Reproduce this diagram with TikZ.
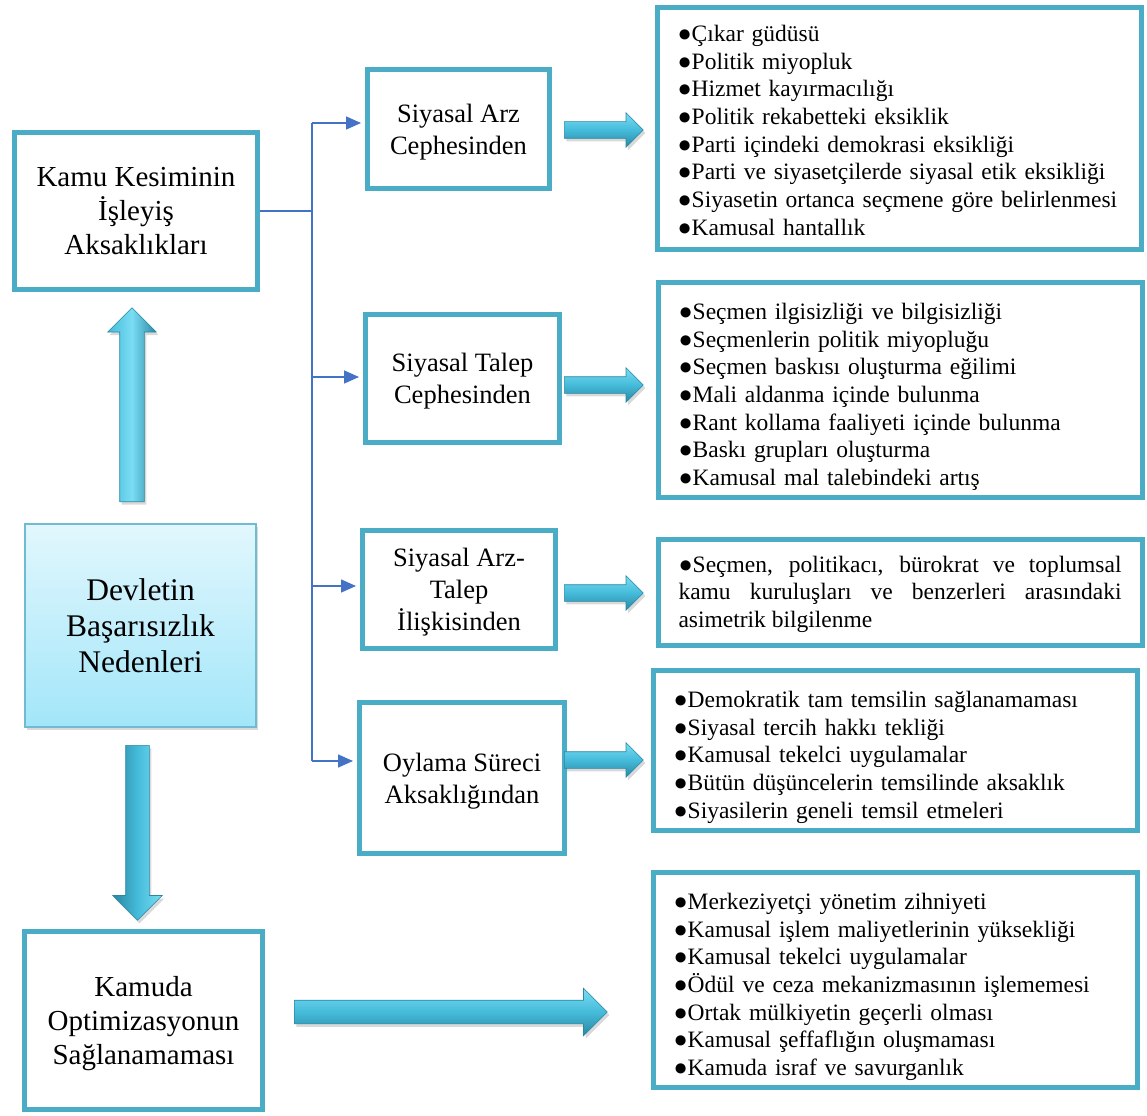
\documentclass[tikz,border=0pt]{standalone}
\usepackage{fontspec}
\setmainfont{Liberation Serif}
\usetikzlibrary{positioning, shapes.arrows, arrows.meta, shadows}

\definecolor{boxteal}{HTML}{4BACC6}
\definecolor{linkblue}{HTML}{4472C4}
\definecolor{arrowdark}{HTML}{2A87A3}
\definecolor{arrowmid}{HTML}{45BBDA}
\definecolor{arrowlight}{HTML}{7ADDF3}
\definecolor{rootedge}{HTML}{6FBCD2}
\definecolor{roottop}{HTML}{E2F7FD}
\definecolor{rootbottom}{HTML}{A2E6F9}

\tikzset{
  sidebox/.style={draw=boxteal, line width=5pt, inner sep=0pt, align=center, text depth=0pt, font=\fontsize{29}{34}\selectfont},
  rootbox/.style={draw=rootedge, line width=1.5pt, inner sep=0pt, align=center, top color=roottop, bottom color=rootbottom,
    drop shadow={opacity=0.3, shadow xshift=2pt, shadow yshift=-3pt}, font=\fontsize{31.5}{36}\selectfont},
  midbox/.style={draw=boxteal, line width=5pt, inner sep=0pt, align=center, text depth=0pt, font=\fontsize{26.5}{32}\selectfont},
  listbox/.style={draw=boxteal, line width=5pt, inner xsep=20.5pt, inner ysep=0pt, text width=443pt, align=left,
    execute at begin node={\rule{0pt}{#1}}, font=\fontsize{23.5}{27.7}\selectfont},
  listbox/.default=30pt,
  link/.style={draw=linkblue, line width=1.5pt},
  blockarrow/.style={single arrow, anchor=tail, inner xsep=0pt, draw=arrowdark, line width=0.6pt,
    top color=arrowlight, bottom color=arrowdark, middle color=arrowmid,
    drop shadow={opacity=0.3, shadow xshift=2pt, shadow yshift=-3pt}}
}

\begin{document}
\begin{tikzpicture}[x=1pt, y=-1pt]
    \useasboundingbox (0,0) rectangle (1147,1115);

    % Left column
    \node[sidebox, minimum width=243pt, minimum height=157pt] (kamu) at (136,211) {Kamu Kesiminin\\İşleyiş\\Aksaklıkları};
    \node[rootbox, minimum width=231pt, minimum height=203pt] (devlet) at (140.5,625.5) {Devletin\\Başarısızlık\\Nedenleri};
    \node[sidebox, minimum width=238pt, minimum height=178pt] (optim) at (143.5,1020.5) {Kamuda\\Optimizasyonun\\Sağlanamaması};

    % Middle column
    \node[midbox, minimum width=182pt, minimum height=119pt] (arz) at (458.5,129) {Siyasal Arz\\Cephesinden};
    \node[midbox, minimum width=194pt, minimum height=128pt] (talep) at (462.5,378.5) {Siyasal Talep\\Cephesinden};
    \node[midbox, minimum width=193pt, minimum height=118pt] (iliski) at (459,589.5) {Siyasal Arz-\\Talep\\İlişkisinden};
    \node[midbox, minimum width=205pt, minimum height=151pt] (oylama) at (462,778) {Oylama Süreci\\Aksaklığından};

    % Right column
    \node[listbox=20pt, minimum height=242pt] (arzlist) at (899,128.5) {●Çıkar güdüsü\\●Politik miyopluk\\●Hizmet kayırmacılığı\\●Politik rekabetteki eksiklik\\●Parti içindeki demokrasi eksikliği\\●Parti ve siyasetçilerde siyasal etik eksikliği\\●Siyasetin ortanca seçmene göre belirlenmesi\\●Kamusal hantallık};
    \node[listbox, minimum height=215pt] (taleplist) at (900,390) {●Seçmen ilgisizliği ve bilgisizliği\\●Seçmenlerin politik miyopluğu\\●Seçmen baskısı oluşturma eğilimi\\●Mali aldanma içinde bulunma\\●Rant kollama faaliyeti içinde bulunma\\●Baskı grupları oluşturma\\●Kamusal mal talebindeki artış};
    \node[listbox=20pt, align=justify, minimum height=106pt] (iliskilist) at (900,592.5) {●Seçmen, politikacı, bürokrat ve toplumsal\linebreak kamu kuruluşları ve benzerleri arasındaki\linebreak asimetrik bilgilenme};
    \node[listbox, minimum height=160pt] (oylamalist) at (895,750.5) {●Demokratik tam temsilin sağlanamaması\\●Siyasal tercih hakkı tekliği\\●Kamusal tekelci uygulamalar\\●Bütün düşüncelerin temsilinde aksaklık\\●Siyasilerin geneli temsil etmeleri};
    \node[listbox, minimum height=215pt] (optimlist) at (895,980) {●Merkeziyetçi yönetim zihniyeti\\●Kamusal işlem maliyetlerinin yüksekliği\\●Kamusal tekelci uygulamalar\\●Ödül ve ceza mekanizmasının işlememesi\\●Ortak mülkiyetin geçerli olması\\●Kamusal şeffaflığın oluşmaması\\●Kamuda israf ve savurganlık};

    % Block arrows
    \node[blockarrow, rotate=90, left color=arrowmid, right color=arrowdark, middle color=arrowlight,
      minimum height=194pt, inner ysep=12pt, single arrow head extend=12pt] (uparrow) at (132,502) {};
    \node[blockarrow, rotate=-90, left color=arrowdark, right color=arrowlight, middle color=arrowmid,
      minimum height=175pt, inner ysep=11.5pt, single arrow head extend=13pt] (downarrow) at (137.5,745) {};
    \node[blockarrow, minimum height=313pt, inner ysep=11.5pt, single arrow head extend=12pt] (optimarrow) at (294,1012) {};
    \foreach \n/\y in {arz/130, talep/385, iliski/593, oylama/760} {
      \node[blockarrow, minimum height=79pt, inner ysep=8pt, single arrow head extend=9pt] (\n-arrow) at (564,\y) {};
    }

    % Branches
    \coordinate (split) at (312,211);
    \foreach \n/\y in {arz/123, talep/377, iliski/586, oylama/761} {
      \coordinate (\n-in) at (312,\y);
      \draw[link, -{Triangle[width=13pt,length=15pt]}, shorten >=4pt] (\n-in) -- (\n.west |- \n-in);
    }
    \draw[link] (kamu.east) -- (split);
    \draw[link] (arz-in) -- (oylama-in);
\end{tikzpicture}
\end{document}
